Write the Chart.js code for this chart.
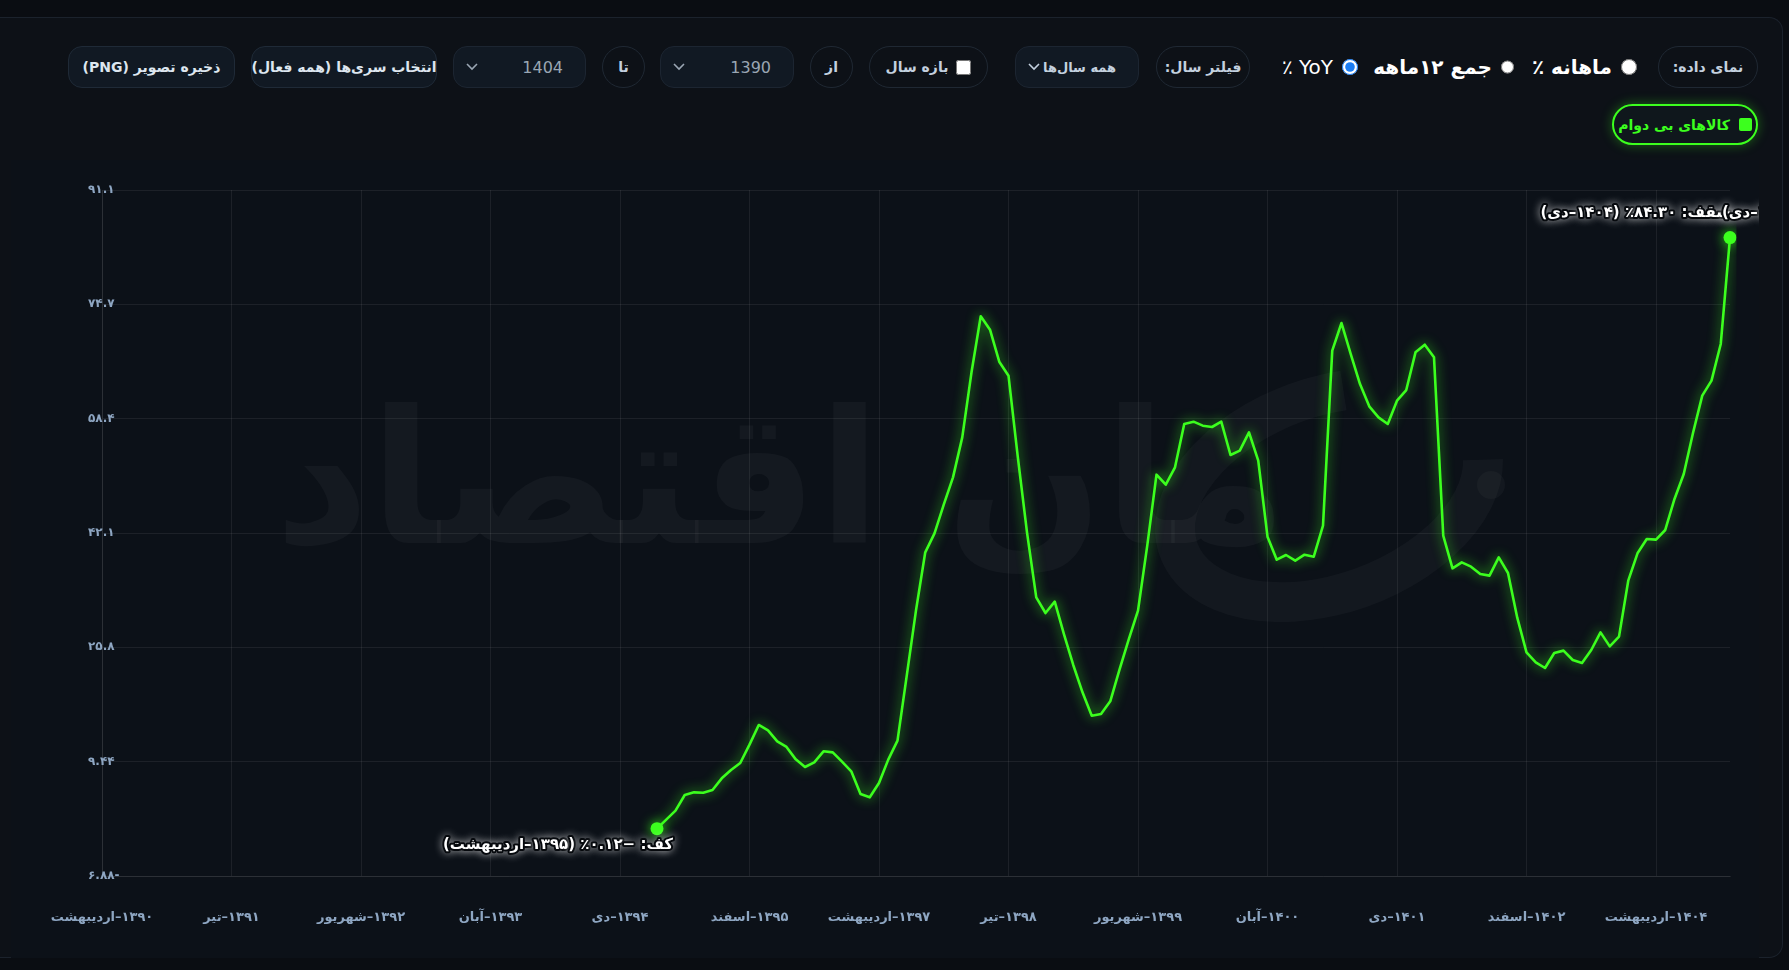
<!DOCTYPE html>
<html lang="fa">
<head>
<meta charset="utf-8">
<title>کالاهای بی دوام</title>
<script src="https://cdn.jsdelivr.net/npm/chart.js@4.4.1/dist/chart.umd.min.js"></script>
<style>
  html, body { margin: 0; padding: 0; width: 1789px; height: 970px; overflow: hidden; background: #0a0d12; font-family: "DejaVu Sans", "Noto Sans", sans-serif; }
  .card { position: absolute; left: 0; top: 17px; width: 1783px; height: 941px; box-sizing: border-box; border: 1px solid #1b222c; border-left: none; border-radius: 0 14px 14px 0; background: #0d1117; }
  .ctl { position: absolute; top: 46px; height: 42px; box-sizing: border-box; display: flex; align-items: center; justify-content: center; white-space: nowrap; }
  .pill { border: 1px solid #1f2833; border-radius: 21px; color: #c3d0df; font-weight: bold; font-size: 14px; }
  .sel { background: #111923; border: 1px solid #1c2531; border-radius: 14px; color: #9aa6b3; font-size: 16px; justify-content: space-between; padding: 0 22px 0 12px; }
  .sel.fa { font-size: 13px; font-weight: bold; color: #c3d0df; }
  .btn { background: #111923; border: 1px solid #1f2a37; border-radius: 14px; color: #dde6ef; font-weight: bold; font-size: 14px; }
  .radio { color: #fff; font-weight: bold; font-size: 20px; justify-content: flex-start; gap: 9px; }
  .radio input { width: 16px; height: 16px; margin: 0; accent-color: #1a7cf2; }
  .radio.yoy { font-weight: normal; }
  .pill input { width: 15px; height: 15px; margin: 0 0 0 8px; }
  .legend { position: absolute; left: 1612px; top: 104px; width: 146px; height: 41px; box-sizing: border-box; border: 2px solid #3cff1e; border-radius: 21px; background: #0f171c; box-shadow: 0 0 12px rgba(60,255,30,0.35); display: flex; align-items: center; justify-content: center; gap: 9px; color: #3cff1e; font-weight: bold; font-size: 14px; }
  .legend span.sw { width: 13px; height: 13px; background: #3cff1e; border-radius: 2px; }
  .panel { position: absolute; left: 11px; top: 160px; width: 1748px; height: 798px; background: #0c1118; }
</style>
</head>
<body>
<div class="card"></div>

<div dir="rtl">
<div class="ctl pill" style="left:1658px;width:100px">نمای داده:</div>
<label class="ctl radio" style="left:1529px;width:108px"><input type="radio" name="v">ماهانه ٪</label>
<label class="ctl radio" style="left:1377px;width:137px"><input type="radio" name="v">جمع ۱۲ماهه</label>
<label class="ctl radio yoy" style="left:1266px;width:92px"><input type="radio" name="v" checked>YoY ٪</label>
<div class="ctl pill" style="left:1156px;width:94px">فیلتر سال:</div>
<div class="ctl sel fa" style="left:1015px;width:124px"><span>همه سال‌ها</span><svg width="12" height="8" viewBox="0 0 12 8"><path d="M1 1l5 5 5-5" stroke="#c3d0df" stroke-width="1.6" fill="none"/></svg></div>
<label class="ctl pill" style="left:869px;width:119px"><input type="checkbox">بازه سال</label>
<div class="ctl pill" style="left:810px;width:43px">از</div>
<div class="ctl sel" style="left:660px;width:134px"><span>1390</span><svg width="12" height="8" viewBox="0 0 12 8"><path d="M1 1l5 5 5-5" stroke="#9aa6b3" stroke-width="1.6" fill="none"/></svg></div>
<div class="ctl pill" style="left:602px;width:43px">تا</div>
<div class="ctl sel" style="left:453px;width:133px"><span>1404</span><svg width="12" height="8" viewBox="0 0 12 8"><path d="M1 1l5 5 5-5" stroke="#9aa6b3" stroke-width="1.6" fill="none"/></svg></div>
<div class="ctl btn" style="left:251px;width:186px">انتخاب سری‌ها (همه فعال)</div>
<div class="ctl btn" style="left:68px;width:167px">ذخیره تصویر (PNG)</div>

<div class="legend"><span class="sw"></span><span>کالاهای بی دوام</span></div>

<div class="panel"><canvas id="chart" width="1748" height="798"></canvas></div>
</div>

<script>
/* ---------- data ---------- */
const seriesName = "کالاهای بی دوام";
const monthNames = ["فروردین", "اردیبهشت", "خرداد", "تیر", "مرداد", "شهریور", "مهر", "آبان", "آذر", "دی", "بهمن", "اسفند"];
const firstYear = 1390, firstMonth = 2;   // 1390-اردیبهشت
const monthCount = 177;                   // up to 1404-دی
const yoyStartIndex = 60;                 // YoY values begin at 1395-اردیبهشت

// YoY % from 1395-اردیبهشت to 1404-دی
const yoyValues = [
  -0.12, 1.17, 2.45, 4.69, 5.07, 5.02, 5.40, 7.07, 8.26, 9.26,
  11.88, 14.69, 13.93, 12.36, 11.55, 9.78, 8.69, 9.36, 10.93, 10.78,
  9.45, 8.07, 4.83, 4.36, 6.40, 9.74, 12.45, 21.73, 31.06, 39.35,
  42.06, 46.16, 50.06, 55.77, 65.06, 73.06, 71.15, 66.58, 64.58, 53.01,
  42.20, 32.92, 30.68, 32.30, 27.64, 23.26, 19.35, 16.02, 16.26, 18.07,
  22.59, 26.92, 31.02, 40.30, 50.44, 49.01, 51.49, 57.68, 58.01, 57.44,
  57.25, 58.01, 53.25, 53.87, 56.49, 52.44, 41.58, 38.30, 38.97, 38.16,
  39.01, 38.73, 43.16, 68.15, 72.10, 67.67, 63.39, 60.20, 58.63, 57.68,
  61.01, 62.53, 67.91, 69.01, 67.20, 41.73, 37.06, 37.92, 37.30, 36.25,
  36.02, 38.64, 36.40, 30.02, 25.07, 23.64, 22.83, 24.97, 25.31, 23.97,
  23.54, 25.40, 27.92, 25.92, 27.31, 35.30, 39.21, 41.25, 41.16, 42.54,
  46.97, 50.54, 56.40, 61.73, 63.87, 69.11, 84.30
];

const yMin = -6.88, yMax = 91.1;
const yTickLabels = ["-6.88", "9.44", "25.8", "42.1", "58.4", "74.7", "91.1"];
const labelEvery = 14;

/* ---------- helpers ---------- */
const fa = s => String(s).replace(/\d/g, d => "۰۱۲۳۴۵۶۷۸۹"[d]);

const labels = [];
for (let i = 0; i < monthCount; i++) {
    const m = firstMonth - 1 + i;
    labels.push(fa(firstYear + Math.floor(m / 12)) + "–" + monthNames[m % 12]);
}

const data = labels.map((_, i) => i < yoyStartIndex ? null : yoyValues[i - yoyStartIndex]);

let minIdx = yoyStartIndex, maxIdx = yoyStartIndex;
data.forEach((v, i) => {
    if (v === null) return;
    if (v < data[minIdx]) minIdx = i;
    if (v > data[maxIdx]) maxIdx = i;
});

const GREEN = "#3cff1e";

/* ---------- plugins ---------- */
const watermark = {
    id: "watermark",
    beforeDraw(chart) {
        const ctx = chart.ctx;
        ctx.save();
        ctx.fillStyle = "rgba(255,255,255,0.035)";
        ctx.font = 'bold 185px "DejaVu Sans"';
        ctx.direction = "rtl";
        ctx.textAlign = "center";
        ctx.textBaseline = "middle";
        ctx.fillText("مان اقتصاد", 770, 335);
        ctx.strokeStyle = "rgba(255,255,255,0.03)";
        ctx.lineWidth = 40;
        ctx.beginPath();
        ctx.ellipse(1318, 335, 160, 98, -0.35, 0.2, Math.PI * 1.6);
        ctx.stroke();
        ctx.beginPath();
        ctx.arc(1480, 325, 14, 0, Math.PI * 2);
        ctx.fillStyle = "rgba(255,255,255,0.03)";
        ctx.fill();
        ctx.restore();
    }
};

const glow = {
    id: "glow",
    beforeDatasetsDraw(chart) {
        chart.ctx.save();
        chart.ctx.shadowColor = "rgba(60,255,30,0.85)";
        chart.ctx.shadowBlur = 12;
    },
    afterDatasetsDraw(chart) {
        chart.ctx.restore();
    }
};

function haloText(ctx, text, x, y, align) {
    ctx.save();
    ctx.font = 'bold 15px "DejaVu Sans"';
    ctx.direction = "rtl";
    ctx.textAlign = align;
    ctx.textBaseline = "middle";
    ctx.shadowColor = "rgba(255,255,255,0.6)";
    ctx.shadowBlur = 8;
    ctx.lineJoin = "round";
    ctx.lineWidth = 4;
    ctx.strokeStyle = "#06090d";
    ctx.strokeText(text, x, y);
    ctx.shadowBlur = 0;
    ctx.fillStyle = "#ffffff";
    ctx.fillText(text, x, y);
    ctx.restore();
}

const extremes = {
    id: "extremes",
    afterDatasetsDraw(chart) {
        const pts = chart.getDatasetMeta(0).data;
        const pMin = pts[minIdx], pMax = pts[maxIdx];
        const vMin = data[minIdx], vMax = data[maxIdx];
        const minTxt = "کف: " + (vMin < 0 ? "−" : "") + fa(Math.abs(vMin).toFixed(2)) + "٪ (" + labels[minIdx] + ")";
        const maxTxt = "سقف: " + fa(vMax.toFixed(2)) + "٪ (" + labels[maxIdx] + ")";
        const lastTxt = "آخرین: " + fa(data[monthCount - 1].toFixed(2)) + "٪ (" + labels[monthCount - 1] + ")";
        haloText(chart.ctx, minTxt, pMin.x + 16, pMin.y + 16, "right");
        haloText(chart.ctx, maxTxt, pMax.x + 1, pMax.y - 25, "right");
        const pl = pts[monthCount - 1];
        haloText(chart.ctx, lastTxt, pl.x - 8, pl.y - 25, "left");
    }
};

/* ---------- chart ---------- */
new Chart(document.getElementById("chart"), {
    type: "line",
    data: {
        labels: labels,
        datasets: [{
            label: seriesName,
            data: data,
            borderColor: GREEN,
            borderWidth: 2.6,
            borderJoinStyle: "round",
            tension: 0,
            fill: false,
            pointRadius: c => (c.dataIndex === minIdx || c.dataIndex === maxIdx) ? 6.5 : 0,
            pointBackgroundColor: GREEN,
            pointBorderWidth: 0,
            spanGaps: false
        }]
    },
    options: {
        responsive: false,
        animation: false,
        layout: { padding: { left: 71, right: 29, top: 30, bottom: 22 } },
        plugins: { legend: { display: false }, tooltip: { enabled: false } },
        scales: {
            x: {
                afterFit: s => { s.height = 60; },
                grid: { color: "rgba(255,255,255,0.07)", drawTicks: false },
                border: { color: "rgba(255,255,255,0.07)" },
                ticks: {
                    autoSkip: false,
                    maxRotation: 0,
                    minRotation: 0,
                    padding: 34,
                    color: "#8ea6c2",
                    font: { family: "DejaVu Sans", size: 13, weight: "bold" },
                    callback: (v, i) => i % labelEvery === 0 ? labels[i] : null
                }
            },
            y: {
                min: yMin,
                max: yMax,
                afterFit: s => { s.width = 20; },
                afterBuildTicks: s => {
                    s.ticks = yTickLabels.map((_, i) => ({ value: yMin + (yMax - yMin) * i / (yTickLabels.length - 1) }));
                },
                grid: { color: "rgba(255,255,255,0.07)", drawTicks: false },
                border: { color: "rgba(255,255,255,0.07)" },
                ticks: {
                    mirror: true,
                    padding: -14,
                    color: "#8ea6c2",
                    font: { family: "DejaVu Sans", size: 12, weight: "bold" },
                    callback: (v, i) => fa(yTickLabels[i])
                }
            }
        }
    },
    plugins: [watermark, glow, extremes]
});
</script>
</body>
</html>
